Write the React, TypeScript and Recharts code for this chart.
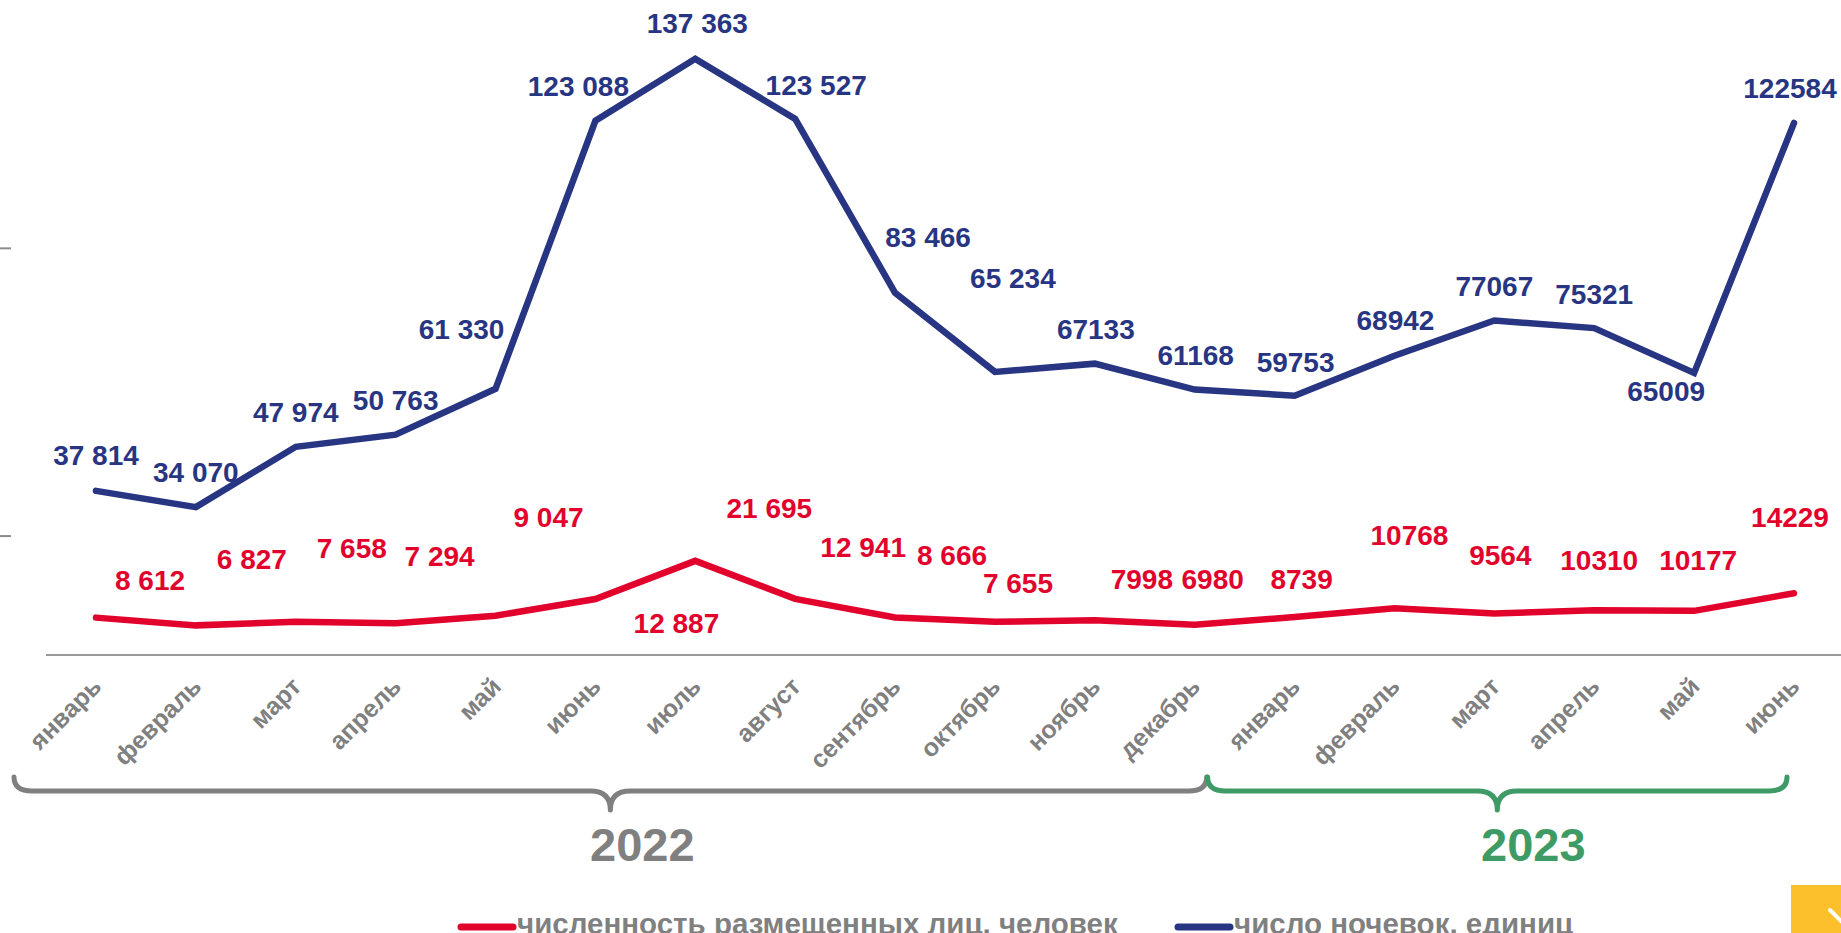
import React from "react";
import { LineChart, Line, XAxis, YAxis, Legend } from "recharts";

const MONTHS = [
  "январь", "февраль", "март", "апрель", "май", "июнь", "июль", "август", "сентябрь",
  "октябрь", "ноябрь", "декабрь", "январь", "февраль", "март", "апрель", "май", "июнь",
];
const NIGHTS = [
  37814, 34070, 47974, 50763, 61330, 123088, 137363, 123527, 83466,
  65234, 67133, 61168, 59753, 68942, 77067, 75321, 65009, 122584,
];
const GUESTS = [
  8612, 6827, 7658, 7294, 9047, 12887, 21695, 12941, 8666,
  7655, 7998, 6980, 8739, 10768, 9564, 10310, 10177, 14229,
];
const YEARS = ["2022", "2023"];
const YEAR_SPANS = [[0, 11], [12, 17]];
const LEFT_TICKS = [27400, 93700];
// values from November 2022 on are printed without the thousands space
const GROUPED_BEFORE = 10;

const FONT = "'Liberation Sans', Arial, sans-serif";
const BLUE = "#283582";
const RED = "#e2032d";
const GRAY = "#808080";
const GREEN = "#3f9b66";

const W = 1850;
const H = 933;
const AXIS_W = 46;
const RIGHT = 6;
const TOP = 4;
const XAXIS_H = 278;
const PAD = 50;
const PLOT_BOTTOM = H - XAXIS_H;
const STEP = (W - AXIS_W - RIGHT - 2 * PAD) / (MONTHS.length - 1);

// label placement (centre offset from the point) copied from the slide
const NIGHT_NUDGE = [
  [0, -36], [0, -35], [0, -35], [0, -35], [-34, -60], [-17, -35], [2, -36], [21, -34], [33, -56],
  [18, -94], [1, -35], [1, -35], [1, -34], [1, -36], [0, -35], [0, -34], [-28, 18], [-4, -35],
];
const GUEST_NUDGE = [
  [54, -38], [56, -66], [56, -74], [44, -67], [53, -99], [81, 24], [74, -53], [68, -52], [57, -62],
  [23, -39], [47, -41], [18, -46], [7, -38], [15, -73], [6, -58], [5, -50], [4, -51], [-4, -76],
];
const BRACE = [
  { color: GRAY, left: -82, right: 12, tip: -35, text: -3 },
  { color: GREEN, left: -87, right: -7, tip: -47, text: -11 },
];

const data = MONTHS.map((m, i) => ({ i, month: m, nights: NIGHTS[i], guests: GUESTS[i] }));

const fmt = (v: number, i: number) =>
  i < GROUPED_BEFORE ? String(v).replace(/\B(?=(\d{3})+(?!\d))/g, " ") : String(v);

const makeLabel = (color: string, nudge: number[][]) => (p: any) => {
  const [dx, dy] = nudge[p.index] || [0, -35];
  return (
    <text
      x={p.x + dx}
      y={p.y + dy + 10}
      textAnchor="middle"
      fill={color}
      fontSize={28}
      fontWeight="bold"
      fontFamily={FONT}
    >
      {fmt(p.value, p.index)}
    </text>
  );
};

function YearBrace({ x0, g }: { x0: number; g: number }) {
  const b = BRACE[g];
  const span = YEAR_SPANS[g];
  const xl = x0 + (span[1] - span[0]) * STEP;
  const x1 = x0 + b.left;
  const x2 = xl + b.right;
  const mid = (x0 + xl) / 2;
  const tip = mid + b.tip;
  const yT = PLOT_BOTTOM + 122;
  const yM = PLOT_BOTTOM + 136;
  const yB = PLOT_BOTTOM + 155;
  const d = `M${x1},${yT} Q${x1},${yM} ${x1 + 18},${yM} H${tip - 20} Q${tip},${yM} ${tip},${yB} Q${tip},${yM} ${tip + 20},${yM} H${x2 - 18} Q${x2},${yM} ${x2},${yT}`;
  return (
    <g>
      <path d={d} fill="none" stroke={b.color} strokeWidth={5} strokeLinecap="round" strokeLinejoin="round" />
      <text
        x={mid + b.text}
        y={PLOT_BOTTOM + 206}
        textAnchor="middle"
        fill={b.color}
        fontSize={47}
        fontWeight="bold"
        fontFamily={FONT}
      >
        {YEARS[g]}
      </text>
    </g>
  );
}

function MonthTick(props: any) {
  const { x, payload } = props;
  const i = Number(payload.value);
  const g = YEAR_SPANS.findIndex((s) => s[0] === i);
  const ax = x + 7;
  const ay = PLOT_BOTTOM + 33;
  return (
    <g>
      <text
        x={ax}
        y={ay}
        transform={`rotate(-45 ${ax} ${ay})`}
        textAnchor="end"
        fill={GRAY}
        fontSize={25}
        fontWeight="bold"
        fontFamily={FONT}
      >
        {MONTHS[i]}
      </text>
      {g >= 0 && <YearBrace x0={x} g={g} />}
    </g>
  );
}

function LeftTick(props: any) {
  return <line x1={0} x2={11} y1={props.y} y2={props.y} stroke="#8c8c8c" strokeWidth={2} />;
}

const legendItems = [
  { name: "численность размещенных лиц, человек", color: RED, left: 457 },
  { name: "число ночевок, единиц", color: BLUE, left: 1174 },
];

function LegendContent() {
  return (
    <div style={{ position: "relative", width: W, height: 0 }}>
      {legendItems.map((it) => (
        <div
          key={it.name}
          style={{
            position: "absolute",
            left: it.left,
            top: 9,
            display: "flex",
            height: 30,
            lineHeight: "30px",
            whiteSpace: "nowrap",
          }}
        >
          <svg width={60} height={30}>
            <line x1={4} x2={56} y1={18} y2={18} stroke={it.color} strokeWidth={7} strokeLinecap="round" />
          </svg>
          <span style={{ color: GRAY, fontSize: 29.5, fontWeight: "bold", fontFamily: FONT }}>{it.name}</span>
        </div>
      ))}
    </div>
  );
}

export default function App() {
  return (
    <div
      style={{
        position: "absolute",
        left: 0,
        top: 0,
        width: 1841,
        height: 933,
        overflow: "hidden",
        background: "#ffffff",
      }}
    >
      <LineChart width={W} height={H} data={data} margin={{ top: TOP, right: RIGHT, left: 0, bottom: 0 }}>
        <XAxis
          dataKey="i"
          type="category"
          interval={0}
          height={XAXIS_H}
          padding={{ left: PAD, right: PAD }}
          tickLine={false}
          axisLine={{ stroke: "#9a9a9a", strokeWidth: 2 }}
          tick={MonthTick}
        />
        <YAxis
          domain={[0, 150000]}
          width={AXIS_W}
          ticks={LEFT_TICKS}
          axisLine={false}
          tickLine={false}
          tick={LeftTick}
        />
        <Legend
          verticalAlign="bottom"
          content={LegendContent}
          wrapperStyle={{ position: "absolute", left: 0, top: 900, width: W, height: 0, overflow: "visible" }}
        />
        <Line
          type="linear"
          dataKey="guests"
          name="численность размещенных лиц, человек"
          stroke={RED}
          strokeWidth={6.5}
          strokeLinecap="round"
          dot={false}
          isAnimationActive={false}
          label={makeLabel(RED, GUEST_NUDGE)}
        />
        <Line
          type="linear"
          dataKey="nights"
          name="число ночевок, единиц"
          stroke={BLUE}
          strokeWidth={6.5}
          strokeLinecap="round"
          dot={false}
          isAnimationActive={false}
          label={makeLabel(BLUE, NIGHT_NUDGE)}
        />
      </LineChart>
      <div
        style={{
          position: "absolute",
          left: 1791,
          top: 885,
          width: 50,
          height: 48,
          background: "#fcc02c",
        }}
      >
        <svg width={50} height={48}>
          <line x1={39} y1={25} x2={52} y2={38} stroke="#ffffff" strokeWidth={4} strokeLinecap="round" />
        </svg>
      </div>
    </div>
  );
}
